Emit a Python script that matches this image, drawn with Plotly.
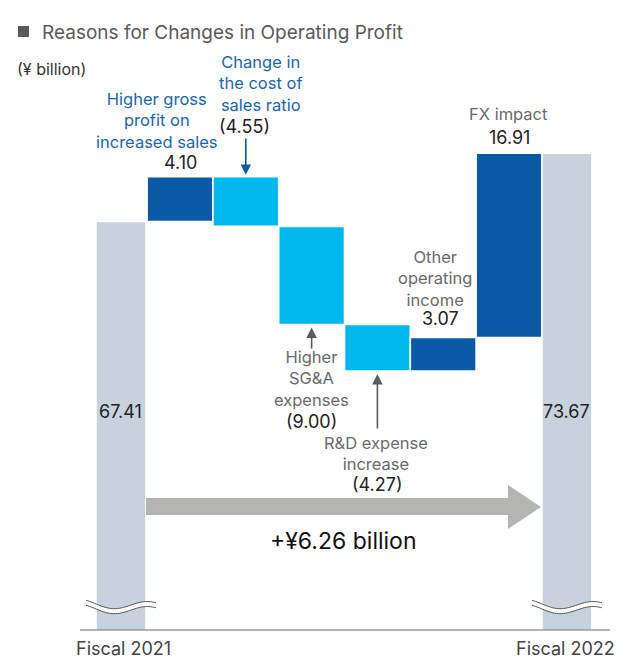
import plotly.graph_objects as go
import math

# ---------------- data ----------------
categories = ["Fiscal 2021", "Higher gross profit on increased sales",
              "Change in the cost of sales ratio", "Higher SG&A expenses",
              "R&D expense increase", "Other operating income", "FX impact",
              "Fiscal 2022"]
measures = ["absolute", "relative", "relative", "relative", "relative",
            "relative", "relative", "total"]
values = [67.41, 4.10, -4.55, -9.00, -4.27, 3.07, 16.91, 73.67]
value_labels = ["67.41", "4.10", "(4.55)", "(9.00)", "(4.27)", "3.07", "16.91", "73.67"]
change_label = "+¥6.26 billion"

# ---------------- layout constants ----------------
W, H = 621, 664
PLOT_BOTTOM = 630          # pixel row of the baseline
X0, X1 = -1.7356, 7.702    # x range
Y0, Y1 = 29.93, 87.73      # broken axis: y range shown

slots = [0.103, 1, 2, 3, 4, 5, 6, 6.88]
widths = [0.76, 1, 1, 1, 1, 1, 1, 0.76]

DARK = "#0a5aa8"
CYAN = "#00b8ee"
TOTAL = "#c8d2df"
BLUE_TXT = "#1a66b5"
GRAY_TXT = "#6a6a6a"
BLACK_TXT = "#222222"
FONT = "Inter, Lato, sans-serif"
NUM = 18
CAT = 16.5


def xp(px):
    return px / W


def yp(py):
    return 1 - py / PLOT_BOTTOM


def x2px(x):
    return (x - X0) / (X1 - X0) * W


def y2py(v):
    return (1 - (v - Y0) / (Y1 - Y0)) * PLOT_BOTTOM


fig = go.Figure(go.Waterfall(
    x=slots, y=values, measure=measures, width=widths,
    increasing=dict(marker=dict(color=DARK, line=dict(color="white", width=1.6))),
    decreasing=dict(marker=dict(color=CYAN, line=dict(color="white", width=1.6))),
    totals=dict(marker=dict(color=TOTAL, line=dict(color="white", width=1.6))),
    connector=dict(visible=False),
    hoverinfo="skip", textinfo="none",
))

# cumulative levels from the data
levels = []
run = 0
for m, v in zip(measures, values):
    if m == "absolute":
        start, run = 0, v
    elif m == "relative":
        start, run = run, run + v
    else:
        start = 0
    levels.append((start, run))

ann = []


def text(px, py, s, color, size, xanchor="center", yanchor="middle"):
    ann.append(dict(x=xp(px), y=yp(py), xref="paper", yref="paper", text=s,
                    showarrow=False, xanchor=xanchor, yanchor=yanchor,
                    font=dict(family=FONT, size=size, color=color)))


def arrow(px, py_head, py_tail, color):
    ann.append(dict(x=xp(px), y=yp(py_head), xref="paper", yref="paper", text="",
                    showarrow=True, ax=0, ay=py_tail - py_head,
                    arrowhead=2, arrowsize=1.3, arrowwidth=1.6, arrowcolor=color))


# title
text(40, 32, "Reasons for Changes in Operating Profit", "#5a5a5a", 19, "left")
text(15, 69, "(¥ billion)", "#333333", 16, "left")

# category texts
text(157, 121, "Higher gross<br>profit on<br>increased sales", BLUE_TXT, CAT)
text(260, 84, "Change in<br>the cost of<br>sales ratio", BLUE_TXT, CAT)
text(311, 378, "Higher<br>SG&A<br>expenses", GRAY_TXT, CAT)
text(376, 453, "R&D expense<br>increase", GRAY_TXT, CAT)
text(435, 278, "Other<br>operating<br>income", GRAY_TXT, CAT)
text(508, 114, "FX impact", GRAY_TXT, CAT)

# value labels
text(x2px(slots[1]), y2py(max(levels[1])) - 14, value_labels[1], BLACK_TXT, NUM)
text(244, 127, value_labels[2], BLACK_TXT, NUM)
text(x2px(slots[3]), 421, value_labels[3], BLACK_TXT, NUM)
text(x2px(slots[4]), 484, value_labels[4], BLACK_TXT, NUM)
text(440, 318, value_labels[5], BLACK_TXT, NUM)
text(x2px(slots[6]), y2py(max(levels[6])) - 16, value_labels[6], BLACK_TXT, NUM)
text(x2px(slots[0]), 411, value_labels[0], BLACK_TXT, NUM)
text(x2px(slots[7]), 411, value_labels[7], BLACK_TXT, NUM)

# arrows
arrow(x2px(slots[2]), y2py(max(levels[2])) - 2, 137, DARK)
arrow(x2px(slots[3]), y2py(min(levels[3])) + 3, 350, "#5a5a5a")
arrow(x2px(slots[4]), y2py(min(levels[4])) + 3, 430, "#5a5a5a")

# big change label and category labels
text(343, 541, change_label, "#111111", 23)
text(123, 649, "Fiscal 2021", "#444444", 18)
text(565, 649, "Fiscal 2022", "#444444", 18)

shapes = []
# title square
shapes.append(dict(type="rect", xref="paper", yref="paper",
                   x0=xp(18), x1=xp(29), y0=yp(26), y1=yp(37),
                   fillcolor="#595959", line=dict(width=0)))
# baseline
shapes.append(dict(type="line", xref="paper", yref="paper",
                   x0=xp(80), x1=xp(610), y0=yp(PLOT_BOTTOM), y1=yp(PLOT_BOTTOM),
                   line=dict(color="#9a9a9a", width=1.5)))
# gray arrow
pts = [(146, 498), (508, 498), (508, 485), (541, 507), (508, 529), (508, 515), (146, 515)]
path = "M " + " L ".join(f"{xp(a):.5f},{yp(b):.5f}" for a, b in pts) + " Z"
shapes.append(dict(type="path", xref="paper", yref="paper", path=path,
                   fillcolor="#b4b5b3", line=dict(width=0)))


# wavy break marks
def wave(cx):
    n = 40
    x_left, x_right = cx - 35, cx + 35
    top, bot = [], []
    for i in range(n + 1):
        t = i / n
        px = x_left + (x_right - x_left) * t
        py = 603.5 + 4.2 * math.sin(2 * math.pi * (t - 0.14)) + 2.5 * t
        top.append((px, py))
        bot.append((px, py + 5))
    p = "M " + " L ".join(f"{xp(a):.5f},{yp(b):.5f}" for a, b in top)
    p += " L " + " L ".join(f"{xp(a):.5f},{yp(b):.5f}" for a, b in reversed(bot)) + " Z"
    shapes.append(dict(type="path", xref="paper", yref="paper", path=p,
                       fillcolor="white", line=dict(width=0)))
    for line in (top, bot):
        lp = "M " + " L ".join(f"{xp(a):.5f},{yp(b):.5f}" for a, b in line)
        shapes.append(dict(type="path", xref="paper", yref="paper", path=lp,
                           line=dict(color="#555555", width=1)))


wave(x2px(slots[0]))
wave(x2px(slots[7]))

fig.update_layout(
    width=W, height=H,
    margin=dict(l=0, r=0, t=0, b=H - PLOT_BOTTOM),
    paper_bgcolor="white", plot_bgcolor="white",
    showlegend=False,
    xaxis=dict(range=[X0, X1], visible=False, fixedrange=True),
    yaxis=dict(range=[Y0, Y1], visible=False, fixedrange=True),
    annotations=ann, shapes=shapes,
    font=dict(family=FONT),
)

fig.write_html("out.html", config={"displayModeBar": False},
               post_script="document.body.style.margin='0';document.body.style.padding='0';document.body.style.overflow='hidden';")
